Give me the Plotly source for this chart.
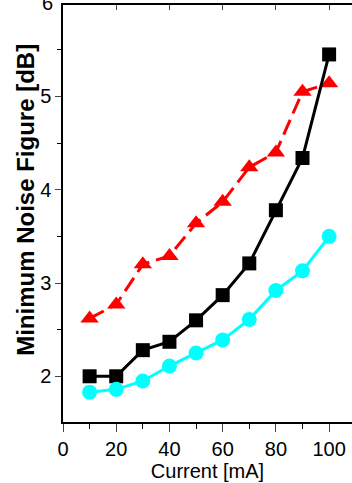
import plotly.graph_objects as go

current = [10, 20, 30, 40, 50, 60, 70, 80, 90, 100]
nf_black = [2.00, 2.00, 2.28, 2.37, 2.60, 2.87, 3.21, 3.78, 4.34, 5.45]
nf_red = [2.62, 2.77, 3.20, 3.29, 3.64, 3.87, 4.24, 4.40, 5.05, 5.14]
nf_cyan = [1.83, 1.86, 1.95, 2.11, 2.25, 2.39, 2.61, 2.92, 3.13, 3.50]

x_ticks = [0, 20, 40, 60, 80, 100]
y_ticks = [2, 3, 4, 5, 6]

FONT = "Liberation Sans, Arial, sans-serif"

fig = go.Figure()
fig.add_trace(go.Scatter(x=current, y=nf_red, mode="lines+markers",
                         line=dict(color="#ff0000", width=3, dash="16px,7px"),
                         marker=dict(symbol="triangle-up", size=16, color="#ff0000"),
                         showlegend=False))
fig.add_trace(go.Scatter(x=current, y=nf_black, mode="lines+markers",
                         line=dict(color="black", width=3),
                         marker=dict(symbol="square", size=14, color="black"),
                         showlegend=False))
fig.add_trace(go.Scatter(x=current, y=nf_cyan, mode="lines+markers",
                         line=dict(color="#00ffff", width=3),
                         marker=dict(symbol="circle", size=15, color="#00ffff"),
                         showlegend=False))
# invisible trace to host top mirror axis
fig.add_trace(go.Scatter(x=[current[0]], y=[nf_black[0]], xaxis="x2", mode="markers",
                         marker=dict(opacity=0), showlegend=False, hoverinfo="skip"))

xr = [0, 108.6]
yr = [1.51, 5.98]

fig.update_layout(
    width=352, height=483,
    margin=dict(l=63.3, r=0, t=5, b=61.3, autoexpand=False),
    paper_bgcolor="white", plot_bgcolor="white",
    font=dict(family=FONT, size=20, color="black"),
    xaxis=dict(range=xr, tickvals=x_ticks, ticks="outside", ticklen=8, tickwidth=1,
               showline=True, linecolor="black", linewidth=1.5, showgrid=False, zeroline=False,
               tickfont=dict(size=20, family=FONT),
               minor=dict(dtick=10, tick0=0, ticks="outside", ticklen=5, tickcolor="black", showgrid=False),
               title=dict(text="Current [mA]", font=dict(size=20, family=FONT), standoff=4)),
    xaxis2=dict(range=xr, overlaying="x", side="top", tickvals=x_ticks, ticks="inside",
                ticklen=5, showticklabels=False, showline=True, linecolor="black", linewidth=1.5,
                showgrid=False, zeroline=False, anchor="y"),
    yaxis=dict(range=yr, tickvals=y_ticks, ticks="outside", ticklen=6, tickwidth=1,
               showline=True, linecolor="black", linewidth=1.5, showgrid=False, zeroline=False,
               tickfont=dict(size=20, family=FONT),
               minor=dict(dtick=0.5, tick0=0, ticks="outside", ticklen=4, tickcolor="black", showgrid=False)),
    annotations=[
        dict(text="6", x=0, xref="paper", y=1.0045, yref="paper", xanchor="right", yanchor="middle",
             xshift=-8, showarrow=False, font=dict(size=20, family=FONT)),
        dict(text="<b>Minimum Noise Figure [dB]</b>", textangle=-90, x=0, xref="paper",
             xshift=-38.3, y=0.532, yref="paper", xanchor="center", yanchor="middle",
             showarrow=False, font=dict(size=24, family=FONT)),
    ],
)

fig.write_html("out.html", config={"displayModeBar": False},
               post_script="document.body.style.margin='0';")
